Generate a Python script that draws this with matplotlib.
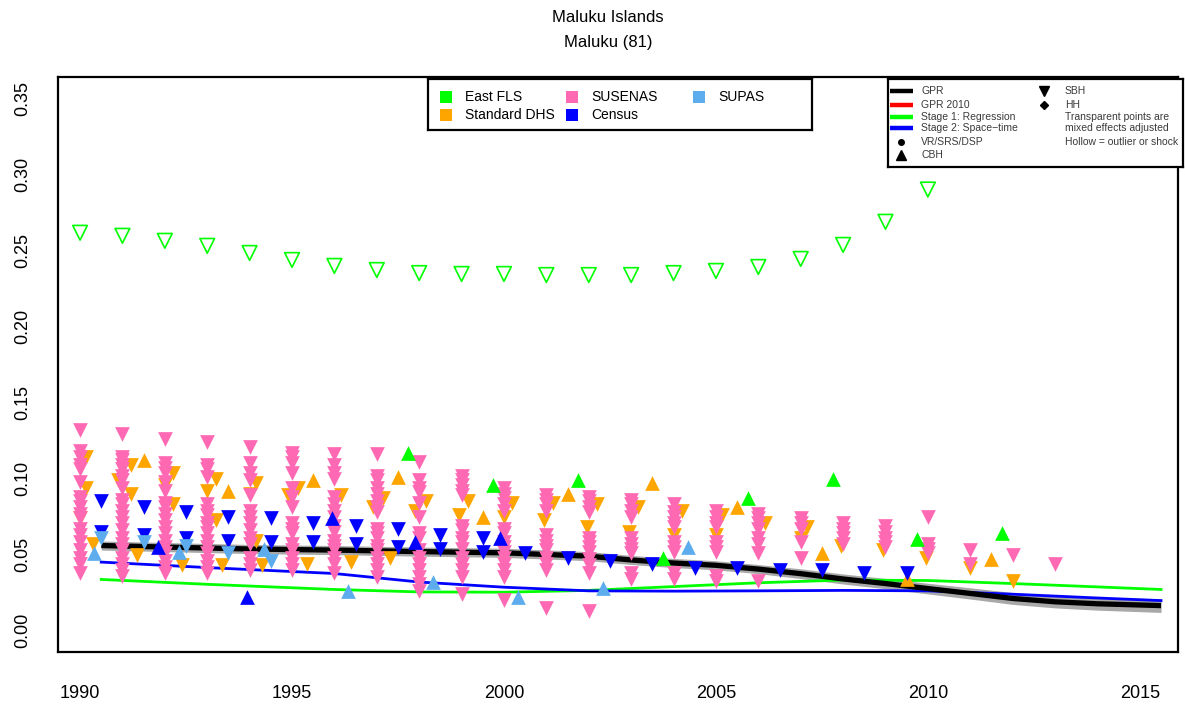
import matplotlib
matplotlib.use('Agg')
import matplotlib.pyplot as plt
from matplotlib.patches import Rectangle

plt.rcParams['font.family'] = ['Liberation Sans', 'DejaVu Sans']

# ---------------- data ----------------
title_1 = "Maluku Islands"
title_2 = "Maluku (81)"

x_ticks = [1990, 1995, 2000, 2005, 2010, 2015]
y_ticks = [0.00, 0.05, 0.10, 0.15, 0.20, 0.25, 0.30, 0.35]
y_tick_labels = ["0.00", "0.05", "0.10", "0.15", "0.20", "0.25", "0.30", "0.35"]

# GPR estimate with uncertainty
gpr_years = [1990.5, 1992, 1994, 1996, 1998, 2000, 2002, 2003, 2004, 2005, 2006,
             2007, 2008, 2009, 2010, 2011, 2012, 2013, 2014, 2015.5]
gpr_vals = [0.0560, 0.0550, 0.0537, 0.0530, 0.0520, 0.0512, 0.0490, 0.0465, 0.0445,
            0.0430, 0.0405, 0.0375, 0.0340, 0.0310, 0.0277, 0.0245, 0.0212, 0.0190,
            0.0177, 0.0165]
gpr_lower = [0.0530, 0.0520, 0.0507, 0.0500, 0.0490, 0.0482, 0.0460, 0.0435, 0.0415,
             0.0400, 0.0375, 0.0343, 0.0307, 0.0276, 0.0242, 0.0208, 0.0173, 0.0150,
             0.0135, 0.0120]
gpr_upper = [0.0590, 0.0580, 0.0567, 0.0560, 0.0550, 0.0542, 0.0520, 0.0495, 0.0475,
             0.0460, 0.0435, 0.0407, 0.0373, 0.0344, 0.0312, 0.0282, 0.0251, 0.0230,
             0.0219, 0.0210]

# Stage 1 (regression) and Stage 2 (space-time)
stage_years = [1990.5, 1993, 1996, 1998, 2000, 2002, 2004, 2006, 2008, 2010, 2012, 2014, 2015.5]
stage1_vals = [0.0337, 0.0305, 0.0271, 0.0255, 0.0253, 0.0265, 0.0290, 0.0315, 0.0333,
               0.0330, 0.0310, 0.0288, 0.0271]
stage2_vals = [0.0451, 0.0415, 0.0376, 0.0320, 0.0286, 0.0262, 0.0260, 0.0262, 0.0265,
               0.0262, 0.0240, 0.0215, 0.0198]

# SUSENAS (SBH) - one list of values per year
susenas_years = [1990, 1991, 1992, 1993, 1994, 1995, 1996, 1997, 1998, 1999, 2000, 2001,
                 2002, 2003, 2004, 2005, 2006, 2007, 2008, 2009, 2010, 2011, 2012, 2013]
susenas_vals = [
    [0.132, 0.118, 0.114, 0.109, 0.106, 0.098, 0.088, 0.085, 0.081, 0.077, 0.074, 0.067, 0.063, 0.058, 0.053, 0.048, 0.044, 0.038],
    [0.129, 0.114, 0.112, 0.109, 0.106, 0.102, 0.099, 0.094, 0.086, 0.083, 0.079, 0.075, 0.071, 0.066, 0.061, 0.057, 0.053, 0.048, 0.044, 0.040, 0.036],
    [0.126, 0.110, 0.107, 0.104, 0.098, 0.092, 0.084, 0.081, 0.077, 0.073, 0.068, 0.064, 0.059, 0.055, 0.051, 0.046, 0.042, 0.038],
    [0.124, 0.109, 0.106, 0.101, 0.083, 0.079, 0.076, 0.071, 0.068, 0.064, 0.059, 0.055, 0.051, 0.046, 0.042, 0.038],
    [0.121, 0.110, 0.104, 0.099, 0.089, 0.079, 0.075, 0.071, 0.066, 0.061, 0.057, 0.048, 0.044, 0.040],
    [0.117, 0.114, 0.110, 0.104, 0.094, 0.088, 0.081, 0.071, 0.067, 0.064, 0.057, 0.053, 0.048, 0.044, 0.040],
    [0.116, 0.109, 0.104, 0.100, 0.088, 0.083, 0.079, 0.075, 0.069, 0.065, 0.059, 0.056, 0.053, 0.048, 0.044, 0.038],
    [0.116, 0.102, 0.099, 0.094, 0.090, 0.085, 0.081, 0.078, 0.067, 0.064, 0.061, 0.056, 0.053, 0.048, 0.044, 0.040, 0.035],
    [0.111, 0.099, 0.094, 0.091, 0.084, 0.075, 0.064, 0.061, 0.053, 0.048, 0.044, 0.040, 0.035, 0.031, 0.026],
    [0.102, 0.099, 0.096, 0.092, 0.089, 0.069, 0.066, 0.061, 0.058, 0.054, 0.048, 0.044, 0.040, 0.035, 0.024],
    [0.094, 0.090, 0.087, 0.083, 0.079, 0.067, 0.064, 0.058, 0.055, 0.052, 0.048, 0.044, 0.040, 0.035, 0.020],
    [0.089, 0.086, 0.083, 0.079, 0.063, 0.059, 0.056, 0.053, 0.048, 0.044, 0.040, 0.015],
    [0.088, 0.085, 0.081, 0.078, 0.061, 0.058, 0.055, 0.052, 0.047, 0.043, 0.038, 0.013],
    [0.086, 0.083, 0.079, 0.075, 0.061, 0.057, 0.054, 0.051, 0.038, 0.034],
    [0.083, 0.078, 0.075, 0.071, 0.068, 0.058, 0.055, 0.052, 0.038, 0.034],
    [0.079, 0.075, 0.071, 0.068, 0.058, 0.055, 0.052, 0.036, 0.033],
    [0.077, 0.074, 0.071, 0.067, 0.061, 0.057, 0.051, 0.033],
    [0.074, 0.071, 0.067, 0.058, 0.048],
    [0.071, 0.067, 0.064, 0.061, 0.057],
    [0.069, 0.065, 0.061, 0.058, 0.055],
    [0.075, 0.057, 0.054, 0.051],
    [0.053, 0.044],
    [0.050],
    [0.044],
]

# Standard DHS
dhs_sbh_years = [1990.15, 1990.15, 1990.0, 1990.3, 1991.2, 1990.9, 1991.2, 1991.35,
                 1992.2, 1992.0, 1992.2, 1992.4, 1993.2, 1993.0, 1993.2, 1993.35,
                 1994.15, 1994.0, 1994.15, 1994.3, 1995.15, 1994.9, 1995.35,
                 1996.15, 1996.4, 1997.15, 1996.9, 1997.3, 1998.15, 1997.9,
                 1999.15, 1998.95, 2000.2, 2000.0, 2001.15, 2000.95, 2002.2, 2001.95,
                 2003.15, 2002.95, 2004.2, 2004.0, 2005.15, 2005.0, 2006.15,
                 2007.15, 2007.0, 2007.95, 2008.95, 2009.95, 2011.0, 2012.0]
dhs_sbh_vals = [0.114, 0.094, 0.074, 0.057, 0.109, 0.099, 0.090, 0.050,
                0.104, 0.096, 0.083, 0.043, 0.100, 0.092, 0.073, 0.043,
                0.097, 0.090, 0.059, 0.043, 0.094, 0.089, 0.044,
                0.089, 0.045, 0.087, 0.081, 0.048, 0.085, 0.079,
                0.085, 0.076, 0.084, 0.075, 0.084, 0.073, 0.083, 0.068,
                0.081, 0.065, 0.079, 0.063, 0.076, 0.063, 0.071,
                0.068, 0.061, 0.056, 0.053, 0.048, 0.041, 0.033]
dhs_cbh_years = [1991.5, 1993.5, 1995.5, 1997.5, 1999.5, 2001.5, 2003.5, 2005.5, 2007.5, 2009.5, 2011.5]
dhs_cbh_vals = [0.112, 0.092, 0.099, 0.101, 0.075, 0.090, 0.097, 0.081, 0.051, 0.034, 0.047]

# East FLS
efls_cbh_years = [1997.73, 1999.73, 2001.75, 2003.75, 2005.75, 2007.75, 2009.75, 2011.75]
efls_cbh_vals = [0.117, 0.096, 0.099, 0.0475, 0.087, 0.100, 0.060, 0.064]
efls_outlier_years = [1990, 1991, 1992, 1993, 1994, 1995, 1996, 1997, 1998, 1999, 2000,
                      2001, 2002, 2003, 2004, 2005, 2006, 2007, 2008, 2009, 2010]
efls_outlier_vals = [0.2616, 0.2596, 0.2563, 0.2530, 0.2483, 0.2437, 0.2398, 0.2371,
                     0.2351, 0.2345, 0.2345, 0.2338, 0.2338, 0.2338, 0.2351, 0.2365,
                     0.2391, 0.2444, 0.2536, 0.2688, 0.2900]

# Census
census_sbh_years = [1990.5, 1990.5, 1991.5, 1991.5, 1992.5, 1992.5, 1993.5, 1993.5,
                    1994.5, 1994.5, 1995.5, 1995.5, 1996.5, 1996.5, 1997.5, 1997.5,
                    1998.5, 1998.5, 1999.5, 1999.5, 2000.5, 2001.5, 2002.5, 2003.5,
                    2004.5, 2005.5, 2006.5, 2007.5, 2008.5, 2009.5]
census_sbh_vals = [0.085, 0.065, 0.081, 0.063, 0.078, 0.061, 0.075, 0.059,
                   0.074, 0.058, 0.071, 0.058, 0.069, 0.057, 0.067, 0.055,
                   0.063, 0.054, 0.061, 0.052, 0.051, 0.048, 0.046, 0.044,
                   0.041, 0.041, 0.040, 0.040, 0.038, 0.038]
census_cbh_years = [1991.85, 1993.93, 1995.95, 1997.9, 1999.9]
census_cbh_vals = [0.055, 0.022, 0.074, 0.058, 0.061]

# SUPAS
supas_sbh_years = [1990.5, 1991.5, 1992.5, 1993.5, 1994.5]
supas_sbh_vals = [0.061, 0.058, 0.056, 0.051, 0.046]
supas_cbh_years = [1990.33, 1992.33, 1994.33, 1996.33, 1998.33, 2000.33, 2002.33, 2004.33]
supas_cbh_vals = [0.051, 0.0515, 0.054, 0.026, 0.032, 0.022, 0.028, 0.055]

source_labels = ["East FLS", "Standard DHS", "SUSENAS", "Census", "SUPAS"]
model_labels = ["GPR", "GPR 2010", "Stage 1: Regression", "Stage 2: Space\u2212time", "VR/SRS/DSP", "CBH"]
type_labels = ["SBH", "HH", "Transparent points are", "mixed effects adjusted", "Hollow = outlier or shock"]

# ---------------- styling ----------------
C_GREEN = '#00FF00'
C_ORANGE = '#FFA500'
C_PINK = '#FF69B4'
C_BLUE = '#0000FF'
C_SUPAS = '#5CACEE'
C_BAND = '#A8A8A8'

W, H = 1185, 704
fig = plt.figure(figsize=(W / 100, H / 100), dpi=100)


def frac(x0, y0, x1, y1):
    return [x0 / W, 1 - y1 / H, (x1 - x0) / W, (y1 - y0) / H]


ax = fig.add_axes(frac(58, 77, 1178, 652))
ax.set_xlim(1989.48, 2015.9)
ax.set_ylim(-0.014, 0.364)
for s in ax.spines.values():
    s.set_linewidth(1.6)
ax.set_xticks(x_ticks)
ax.set_xticklabels([str(t) for t in x_ticks], fontsize=13)
ax.set_yticks(y_ticks)
ax.set_yticklabels(y_tick_labels, fontsize=13, rotation=90, va='center')
ax.tick_params(axis='x', length=0, pad=24)
ax.tick_params(axis='y', length=0, pad=19)

# lines
ax.fill_between(gpr_years, gpr_lower, gpr_upper, color=C_BAND, lw=0, zorder=1)
ax.plot(stage_years, stage1_vals, color=C_GREEN, lw=2.0, zorder=2)
ax.plot(stage_years, stage2_vals, color=C_BLUE, lw=2.0, zorder=2)
ax.plot(gpr_years, gpr_vals, color='black', lw=3.8, zorder=3, solid_capstyle='butt')

MS = 112
# points
ax.scatter(efls_outlier_years, efls_outlier_vals, marker='v', s=MS, facecolors='none',
           edgecolors=C_GREEN, linewidths=1.2, zorder=4)
ax.scatter(dhs_sbh_years, dhs_sbh_vals, marker='v', s=MS, color=C_ORANGE, lw=0, zorder=4)
ax.scatter(dhs_cbh_years, dhs_cbh_vals, marker='^', s=MS, color=C_ORANGE, lw=0, zorder=4)
sx, sy = [], []
for yr, vals in zip(susenas_years, susenas_vals):
    sx += [yr] * len(vals)
    sy += vals
ax.scatter(sx, sy, marker='v', s=MS, color=C_PINK, lw=0, zorder=5)
ax.scatter(census_sbh_years, census_sbh_vals, marker='v', s=MS, color=C_BLUE, lw=0, zorder=6)
ax.scatter(census_cbh_years, census_cbh_vals, marker='^', s=MS, color=C_BLUE, lw=0, zorder=6)
ax.scatter(supas_sbh_years, supas_sbh_vals, marker='v', s=MS, color=C_SUPAS, lw=0, zorder=6)
ax.scatter(supas_cbh_years, supas_cbh_vals, marker='^', s=MS, color=C_SUPAS, lw=0, zorder=6)
ax.scatter(efls_cbh_years, efls_cbh_vals, marker='^', s=MS, color=C_GREEN, lw=0, zorder=6)

# titles
fig.text(608 / W, 1 - 18 / H, title_1, ha='center', va='center', fontsize=12)
fig.text(608 / W, 1 - 43 / H, title_2, ha='center', va='center', fontsize=12)

# ---------------- legend 1: data sources ----------------
L1 = (428, 79, 812, 130)
lax = fig.add_axes(frac(*L1))
lax.set_xlim(0, L1[2] - L1[0])
lax.set_ylim(L1[3] - L1[1], 0)
lax.set_xticks([]); lax.set_yticks([])
for s in lax.spines.values():
    s.set_linewidth(1.6)
src_colors = [C_GREEN, C_ORANGE, C_PINK, C_BLUE, C_SUPAS]
src_pos = [(18, 18), (18, 36), (144, 18), (144, 36), (271, 18)]
for lab, col, (px, py) in zip(source_labels, src_colors, src_pos):
    lax.add_patch(Rectangle((px - 6, py - 6), 12, 12, color=col, lw=0))
    lax.text(px + 19, py, lab, fontsize=10, va='center', ha='left')

# ---------------- legend 2: model / types ----------------
L2 = (888, 79, 1183, 167)
lax2 = fig.add_axes(frac(*L2))
lax2.set_xlim(0, L2[2] - L2[0])
lax2.set_ylim(L2[3] - L2[1], 0)
lax2.set_xticks([]); lax2.set_yticks([])
for s in lax2.spines.values():
    s.set_linewidth(1.6)
rows = [12, 26, 38, 49, 63, 76]
TXT = '#3a3a3a'
line_cols = ['black', 'red', C_GREEN, C_BLUE]
for i in range(4):
    lax2.plot([2, 25], [rows[i], rows[i]], color=line_cols[i], lw=3.2, solid_capstyle='butt')
lax2.plot([13], [rows[4]], marker='o', color='black', ms=4)
lax2.plot([13], [rows[5]], marker='^', color='black', ms=6.5)
for i, lab in enumerate(model_labels):
    lax2.text(33, rows[i], lab, fontsize=7.5, va='center', ha='left', color=TXT)
lax2.plot([156], [rows[0]], marker='v', color='black', ms=6.5)
lax2.plot([156], [rows[1]], marker='D', color='black', ms=4.5)
for i, lab in enumerate(type_labels):
    lax2.text(177, rows[i], lab, fontsize=7.5, va='center', ha='left', color=TXT)

fig.savefig('out.png', dpi=100)
